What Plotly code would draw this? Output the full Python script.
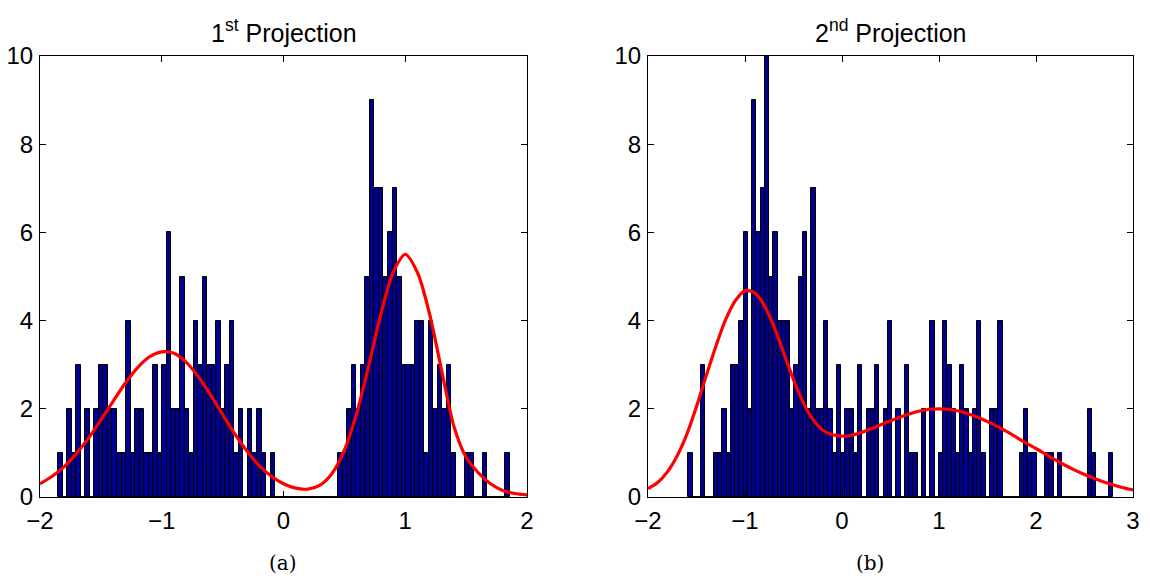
import numpy as np
import plotly.graph_objects as go

# ---------------- data ----------------
# Panel (a): 100-bin histogram of 1st projection
a_bin_start = -1.850
a_bin_width = 0.0371
a_counts = [1, 0, 2, 1, 3, 0, 2, 0, 2, 3,
            3, 2, 2, 1, 1, 4, 1, 2, 2, 1,
            1, 3, 1, 3, 6, 2, 2, 5, 2, 1,
            4, 3, 5, 3, 3, 4, 2, 3, 4, 1,
            2, 0, 2, 1, 2, 1, 0, 1, 0, 0,
            0, 0, 0, 0, 0, 0, 0, 0, 0, 0,
            0, 0, 1, 1, 2, 3, 2, 3, 5, 9,
            7, 7, 5, 6, 7, 5, 3, 3, 3, 4,
            4, 1, 4, 2, 3, 2, 3, 1, 0, 0,
            1, 1, 0, 0, 1, 0, 0, 0, 0, 1]
a_curve_x = [-2.0, -1.9, -1.8, -1.7, -1.6, -1.5, -1.4, -1.3, -1.2, -1.1,
             -1.0, -0.9, -0.8, -0.7, -0.6, -0.5, -0.4, -0.3, -0.2, -0.1,
             0.0, 0.1, 0.2, 0.3, 0.4, 0.5, 0.6, 0.7, 0.8, 0.9,
             1.0, 1.1, 1.2, 1.3, 1.4, 1.5, 1.6, 1.7, 1.8, 1.9, 2.0]
a_curve_y = [0.30, 0.47, 0.69, 0.99, 1.34, 1.75, 2.17, 2.58, 2.93, 3.18,
             3.29, 3.26, 3.06, 2.73, 2.32, 1.87, 1.43, 1.04, 0.71, 0.47,
             0.30, 0.20, 0.18, 0.27, 0.54, 1.06, 1.89, 2.98, 4.15, 5.09,
             5.50, 5.09, 4.15, 2.85, 1.60, 0.90, 0.55, 0.30, 0.15, 0.08, 0.05]

# Panel (b): 100-bin histogram of 2nd projection
b_bin_start = -1.585
b_bin_width = 0.04381
b_counts = [1, 0, 0, 3, 0, 0, 1, 1, 2, 1,
            3, 3, 4, 6, 2, 9, 6, 7, 10, 5,
            6, 4, 4, 4, 2, 3, 5, 6, 2, 7,
            2, 2, 4, 2, 1, 3, 1, 2, 2, 1,
            3, 0, 2, 2, 3, 0, 2, 4, 0, 2,
            0, 3, 1, 1, 0, 2, 0, 4, 0, 1,
            4, 3, 2, 1, 3, 2, 1, 2, 4, 1,
            0, 2, 2, 4, 0, 0, 0, 0, 1, 2,
            1, 1, 0, 0, 1, 1, 0, 1, 0, 0,
            0, 0, 0, 0, 2, 1, 0, 0, 0, 1]
b_curve_x = [-2.0, -1.9, -1.8, -1.7, -1.6, -1.5, -1.4, -1.3, -1.2, -1.1,
             -1.0, -0.9, -0.8, -0.7, -0.6, -0.5, -0.4, -0.3, -0.2, -0.1,
             0.0, 0.1, 0.2, 0.3, 0.4, 0.5, 0.6, 0.7, 0.8, 0.9,
             1.0, 1.1, 1.2, 1.3, 1.4, 1.5, 1.6, 1.7, 1.8, 1.9,
             2.0, 2.1, 2.2, 2.3, 2.4, 2.5, 2.6, 2.7, 2.8, 2.9, 3.0]
b_curve_y = [0.19, 0.33, 0.57, 0.93, 1.42, 2.05, 2.75, 3.42, 4.02, 4.45,
             4.68, 4.63, 4.34, 3.86, 3.26, 2.66, 2.14, 1.76, 1.52, 1.41,
             1.38, 1.40, 1.46, 1.55, 1.64, 1.73, 1.81, 1.89, 1.95, 1.99,
             2.00, 1.99, 1.95, 1.89, 1.81, 1.71, 1.60, 1.48, 1.35, 1.22,
             1.10, 0.97, 0.84, 0.72, 0.61, 0.51, 0.42, 0.34, 0.27, 0.21, 0.16]

a_title = "1<sup>st</sup> Projection"
b_title = "2<sup>nd</sup> Projection"
a_caption = "(a)"
b_caption = "(b)"

a_xticks = [-2, -1, 0, 1, 2]
a_xticktext = ["\u22122", "\u22121", "0", "1", "2"]
b_xticks = [-2, -1, 0, 1, 2, 3]
b_xticktext = ["\u22122", "\u22121", "0", "1", "2", "3"]
yticks = [0, 2, 4, 6, 8, 10]

# ---------------- figure ----------------
W, H = 1150, 580
BAR_COLOR = "rgb(0,0,143)"
FONT = "Liberation Sans, Arial, sans-serif"

def centers(start, width, n):
    return [start + (i + 0.5) * width for i in range(n)]

fig = go.Figure()
fig.add_trace(go.Bar(x=centers(a_bin_start, a_bin_width, len(a_counts)), y=a_counts,
                     width=a_bin_width, marker=dict(color=BAR_COLOR, line=dict(color="black", width=1)),
                     xaxis="x", yaxis="y", showlegend=False))
fig.add_trace(go.Scatter(x=a_curve_x, y=a_curve_y, mode="lines",
                         line=dict(color="rgb(255,0,0)", width=3.2, shape="spline", smoothing=0.8),
                         xaxis="x", yaxis="y", showlegend=False))
fig.add_trace(go.Bar(x=centers(b_bin_start, b_bin_width, len(b_counts)), y=b_counts,
                     width=b_bin_width, marker=dict(color=BAR_COLOR, line=dict(color="black", width=1)),
                     xaxis="x2", yaxis="y2", showlegend=False))
fig.add_trace(go.Scatter(x=b_curve_x, y=b_curve_y, mode="lines",
                         line=dict(color="rgb(255,0,0)", width=3.2, shape="spline", smoothing=0.8),
                         xaxis="x2", yaxis="y2", showlegend=False))

def px_x(p):
    return p / W

def px_y(p):
    return (H - p) / H

common_axis = dict(showline=True, linecolor="black", linewidth=1, mirror="allticks",
                   ticks="inside", ticklen=6, tickcolor="black", showgrid=False, zeroline=False,
                   tickfont=dict(family=FONT, size=24, color="black"), automargin=False)

y_dom = [px_y(497), px_y(56)]
fig.update_layout(
    width=W, height=H,
    margin=dict(l=0, r=0, t=0, b=0),
    paper_bgcolor="white", plot_bgcolor="white",
    bargap=0,
    xaxis=dict(domain=[px_x(40), px_x(527)], range=[-2, 2], tickvals=a_xticks,
               ticktext=a_xticktext, anchor="y", ticklabelstandoff=2, **common_axis),
    yaxis=dict(domain=y_dom, range=[0, 10], tickvals=yticks, anchor="x", ticklabelstandoff=1, **common_axis),
    xaxis2=dict(domain=[px_x(648), px_x(1133)], range=[-2, 3], tickvals=b_xticks,
                ticktext=b_xticktext, anchor="y2", ticklabelstandoff=2, **common_axis),
    yaxis2=dict(domain=y_dom, range=[0, 10], tickvals=yticks, anchor="x2", ticklabelstandoff=1, **common_axis),
)

annos = []
for xc, t in [((40 + 527) / 2, a_title), ((648 + 1133) / 2, b_title)]:
    annos.append(dict(x=px_x(xc), y=px_y(31), xref="paper", yref="paper", text=t,
                      showarrow=False, xanchor="center", yanchor="middle",
                      font=dict(family=FONT, size=25, color="black")))
for xc, t in [(283, a_caption), (870, b_caption)]:
    annos.append(dict(x=px_x(xc), y=px_y(563), xref="paper", yref="paper", text=t,
                      showarrow=False, xanchor="center", yanchor="middle",
                      font=dict(family="DejaVu Serif, Liberation Serif, serif", size=20, color="black")))
fig.update_layout(annotations=annos)

fig.write_html("out.html")
